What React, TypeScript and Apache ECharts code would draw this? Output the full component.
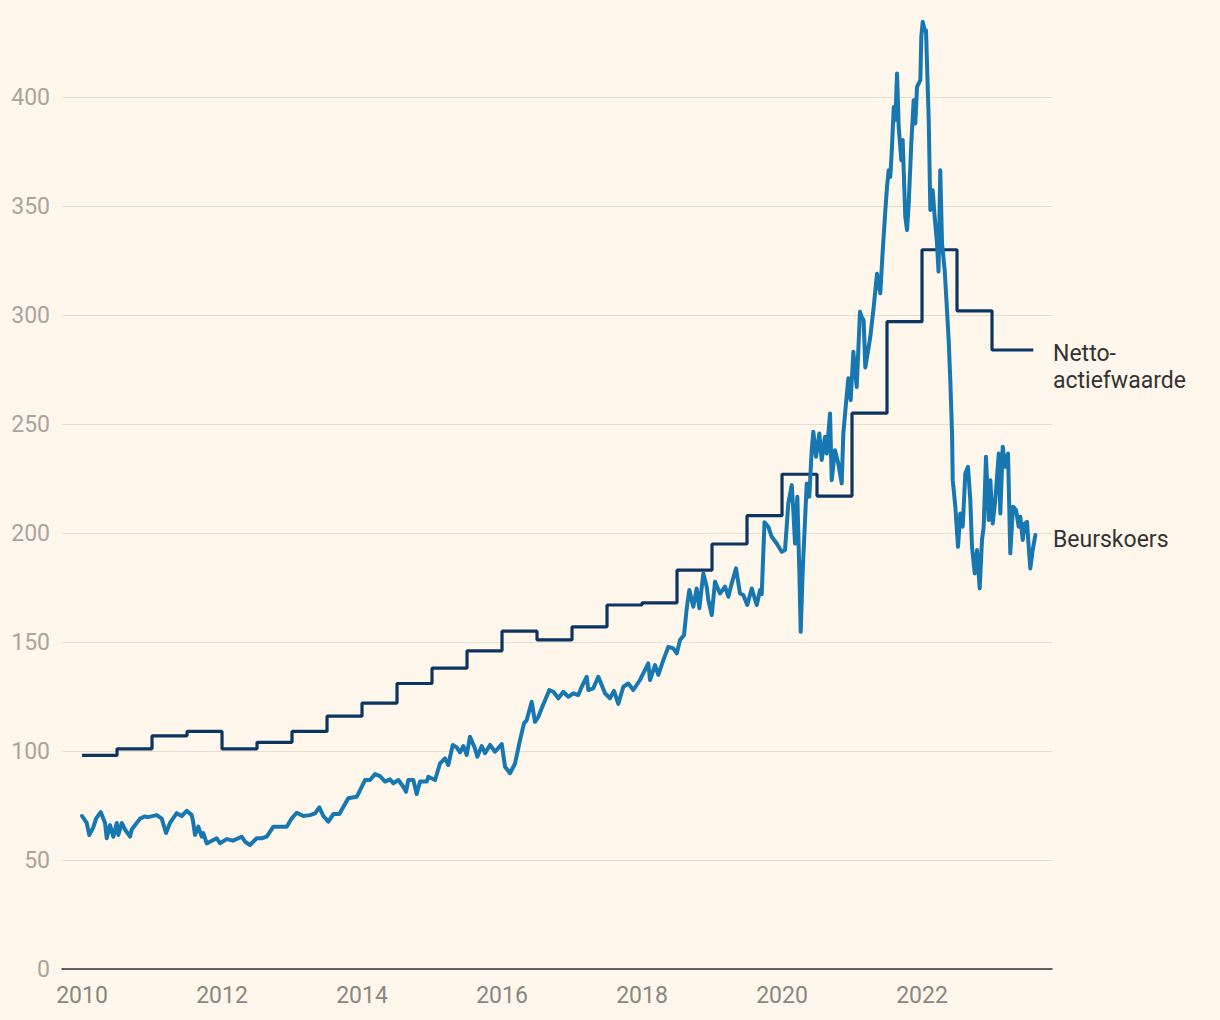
import React, { useEffect, useRef } from "react";
import * as echarts from "echarts";

// Decimal-year dates and values of the share price (Beurskoers)
const priceDates: number[] = [
  2010.0, 2010.067, 2010.104, 2010.161, 2010.2, 2010.267, 2010.329, 2010.353, 2010.4, 2010.447,
  2010.496, 2010.519, 2010.567, 2010.614, 2010.686, 2010.71, 2010.829, 2010.9, 2010.943, 2011.067,
  2011.139, 2011.2, 2011.257, 2011.353, 2011.424, 2011.496, 2011.567, 2011.59, 2011.614, 2011.661,
  2011.71, 2011.733, 2011.781, 2011.924, 2011.971, 2012.067, 2012.157, 2012.281, 2012.329, 2012.4,
  2012.496, 2012.567, 2012.639, 2012.733, 2012.829, 2012.924, 2012.996, 2013.067, 2013.161, 2013.257,
  2013.329, 2013.39, 2013.447, 2013.519, 2013.59, 2013.676, 2013.804, 2013.924, 2013.971, 2014.043,
  2014.114, 2014.186, 2014.257, 2014.329, 2014.4, 2014.447, 2014.519, 2014.59, 2014.629, 2014.661,
  2014.733, 2014.781, 2014.829, 2014.924, 2014.947, 2015.043, 2015.114, 2015.186, 2015.233, 2015.296,
  2015.353, 2015.4, 2015.447, 2015.496, 2015.543, 2015.614, 2015.647, 2015.71, 2015.757, 2015.829,
  2015.9, 2015.996, 2016.043, 2016.114, 2016.186, 2016.257, 2016.314, 2016.353, 2016.424, 2016.471,
  2016.519, 2016.567, 2016.676, 2016.733, 2016.804, 2016.876, 2016.947, 2017.019, 2017.09, 2017.139,
  2017.21, 2017.233, 2017.304, 2017.376, 2017.424, 2017.471, 2017.543, 2017.6, 2017.661, 2017.733,
  2017.804, 2017.876, 2017.971, 2018.043, 2018.09, 2018.114, 2018.186, 2018.233, 2018.304, 2018.376,
  2018.447, 2018.496, 2018.543, 2018.6, 2018.639, 2018.676, 2018.733, 2018.781, 2018.819, 2018.876,
  2018.924, 2018.947, 2018.996, 2019.043, 2019.114, 2019.186, 2019.233, 2019.281, 2019.343, 2019.4,
  2019.447, 2019.504, 2019.567, 2019.639, 2019.686, 2019.71, 2019.75, 2019.804, 2019.853, 2019.924,
  2019.996, 2020.043, 2020.09, 2020.139, 2020.161, 2020.186, 2020.219, 2020.247, 2020.267, 2020.296,
  2020.329, 2020.353, 2020.39, 2020.424, 2020.447, 2020.486, 2020.533, 2020.567, 2020.614, 2020.639,
  2020.686, 2020.71, 2020.757, 2020.804, 2020.853, 2020.876, 2020.914, 2020.947, 2020.981, 2021.019,
  2021.067, 2021.114, 2021.139, 2021.166, 2021.19, 2021.261, 2021.31, 2021.357, 2021.404, 2021.439,
  2021.476, 2021.5, 2021.524, 2021.547, 2021.571, 2021.596, 2021.619, 2021.643, 2021.667, 2021.704,
  2021.724, 2021.761, 2021.786, 2021.81, 2021.847, 2021.881, 2021.904, 2021.929, 2021.976, 2021.99,
  2022.01, 2022.039, 2022.057, 2022.096, 2022.119, 2022.153, 2022.181, 2022.214, 2022.236, 2022.261,
  2022.286, 2022.324, 2022.357, 2022.381, 2022.404, 2022.429, 2022.439, 2022.476, 2022.514, 2022.547,
  2022.581, 2022.619, 2022.657, 2022.69, 2022.714, 2022.753, 2022.786, 2022.824, 2022.857, 2022.881,
  2022.914, 2022.953, 2022.976, 2023.01, 2023.047, 2023.096, 2023.119, 2023.153, 2023.19, 2023.229,
  2023.261, 2023.3, 2023.343, 2023.381, 2023.404, 2023.439, 2023.467, 2023.5, 2023.524, 2023.547,
  2023.581, 2023.619,
];
const priceValues: number[] = [
  70.2, 67, 61.5, 65, 69, 72, 67, 60, 66, 60.7,
  67, 61.5, 67, 64, 60.7, 64, 69, 70, 69.7, 70.6,
  69, 62.4, 67, 71.5, 70.2, 72.6, 70.6, 67, 61.5, 65.3,
  60.7, 62.4, 57.6, 60, 57.7, 59.6, 58.9, 60.7, 58.4, 56.9,
  60, 60, 60.7, 65.3, 65.3, 65.3, 69.1, 71.7, 70.2, 70.6,
  71.4, 74.2, 70.2, 67.6, 71.1, 71.1, 78.3, 79, 82, 86.7,
  86.7, 89.4, 88.5, 86, 87, 85.2, 86.7, 83.6, 81.3, 86.7,
  86.7, 80.3, 86, 86, 88.2, 86.7, 94.3, 96.6, 93.6, 102.8,
  101.7, 99.4, 102.3, 98.2, 106.6, 101.2, 97.4, 102.3, 99, 102.8,
  99.7, 103.2, 92.8, 89.8, 94.3, 105, 112.7, 114.2, 122.6, 113.4,
  115.7, 119.6, 128, 127.2, 124.2, 127.2, 124.9, 126.5, 125.7, 129.5,
  134.1, 128, 128.8, 134.1, 130.3, 126.5, 124.2, 127.6, 121.6, 129.5,
  131, 128, 132.6, 137.2, 140.2, 132.6, 139.4, 134.9, 141.7, 147.8,
  147.1, 144.8, 150.9, 153.2, 165.5, 173.9, 166.2, 174.6, 165.5, 181.5,
  175.4, 169.3, 162.4, 177.7, 172.3, 175.4, 170.8, 176.9, 183.8, 172.3,
  171.6, 167, 174.6, 167, 173.9, 172, 205, 202.9, 198.3, 195.2,
  191.4, 192.2, 213.6, 222, 210.6, 195.2, 216.7, 183, 154.7, 183,
  206, 222.8, 216.7, 238, 246.5, 235, 245.7, 233.5, 244.2, 236.5,
  254.9, 224.3, 238, 232, 222.8, 245.7, 259.5, 271, 261, 283.2,
  267, 301.5, 299.2, 297.7, 276, 290, 303.8, 319, 310, 329.8,
  348, 358.9, 366.5, 363.4, 377.2, 395.5, 389.4, 410.9, 386.4, 371.1,
  380.3, 345.1, 339, 351.2, 378.8, 398.6, 387.9, 404.7, 407.8, 427.7,
  434.6, 430.7, 430.7, 389.4, 348.2, 357.3, 345.1, 332.9, 320, 366.5,
  332.9, 320.6, 302.3, 288.5, 270.2, 245.7, 224.3, 212.1, 193.7, 209,
  202.9, 227.4, 230.4, 215.1, 193.7, 181.5, 192.2, 174.6, 196.8, 202.9,
  235, 206, 224.3, 204.4, 215.1, 236.5, 209, 239.6, 230.4, 236.5,
  190.7, 212.1, 210.6, 202.9, 207.5, 196.8, 204.4, 205.2, 193.7, 183.8,
  192.2, 199.1,
];

// Net asset value (Netto-actiefwaarde): value valid from each date onwards
const navDates: number[] = [
  2010.0, 2010.5, 2011.0, 2011.5, 2012.0, 2012.5, 2013.0, 2013.5, 2014.0, 2014.5,
  2015.0, 2015.5, 2016.0, 2016.5, 2017.0, 2017.5, 2018.0, 2018.5, 2019.0, 2019.5,
  2020.0, 2020.5, 2021.0, 2021.5, 2022.0, 2022.5, 2023.0, 2023.59,
];
const navValues: number[] = [
  98, 101, 107, 109, 101, 104, 109, 116, 122, 131,
  138, 146, 155, 151, 157, 167, 168, 183, 195, 208,
  227, 217, 255, 297, 330, 302, 284, 284,
];

const xLabelYears: number[] = [2010, 2012, 2014, 2016, 2018, 2020, 2022];
const seriesNames: string[] = ["Beurskoers", "Netto-\nactiefwaarde"];

export default function App() {
  const ref = useRef<HTMLDivElement>(null);
  useEffect(() => {
    if (!ref.current) return;
    const chart = echarts.init(ref.current, null, { renderer: "svg" });
    const font = "Roboto, 'Noto Sans', sans-serif";
    chart.setOption({
      animation: false,
      backgroundColor: "#fff7eb",
      grid: { left: 62, right: 168, top: 10, bottom: 51, containLabel: false },
      xAxis: {
        type: "value",
        min: 2009.714,
        max: 2023.857,
        axisLine: { show: true, lineStyle: { color: "#333333", width: 1.5 } },
        axisTick: { show: false },
        splitLine: { show: false },
        axisLabel: {
          customValues: xLabelYears,
          formatter: (v: number) => String(Math.round(v)),
          color: "#8a867f",
          fontSize: 23,
          fontFamily: font,
          margin: 15,
        },
      },
      yAxis: {
        type: "value",
        min: 0,
        max: 440,
        interval: 50,
        axisLine: { show: false },
        axisTick: { show: false },
        splitLine: { show: true, showMaxLine: false, lineStyle: { color: "#e7ded1", width: 1.2 } },
        axisLabel: {
          showMaxLabel: false,
          color: "#aaa49b",
          fontSize: 23,
          fontFamily: font,
          margin: 12,
        },
      },
      series: [
        {
          name: seriesNames[1],
          type: "line",
          step: "end",
          showSymbol: false,
          data: navDates.map((d, i) => [d, navValues[i]]),
          lineStyle: { color: "#0c3562", width: 3.2 },
          z: 2,
        },
        {
          name: seriesNames[0],
          type: "line",
          showSymbol: false,
          data: priceDates.map((d, i) => [d, priceValues[i]]),
          lineStyle: { color: "#1778b1", width: 4, join: "round", cap: "round" },
          z: 3,
        },
      ],
      graphic: [
        {
          type: "text",
          left: 1053,
          top: 340,
          style: {
            text: seriesNames[1],
            fill: "#333333",
            fontSize: 23,
            lineHeight: 27,
            fontFamily: font,
          },
        },
        {
          type: "text",
          left: 1053,
          top: 526,
          style: {
            text: seriesNames[0],
            fill: "#333333",
            fontSize: 23,
            lineHeight: 27,
            fontFamily: font,
          },
        },
      ],
    });
    return () => chart.dispose();
  }, []);
  return (
    <div
      ref={ref}
      style={{ position: "fixed", left: 0, top: 0, width: 1220, height: 1020 }}
    />
  );
}
